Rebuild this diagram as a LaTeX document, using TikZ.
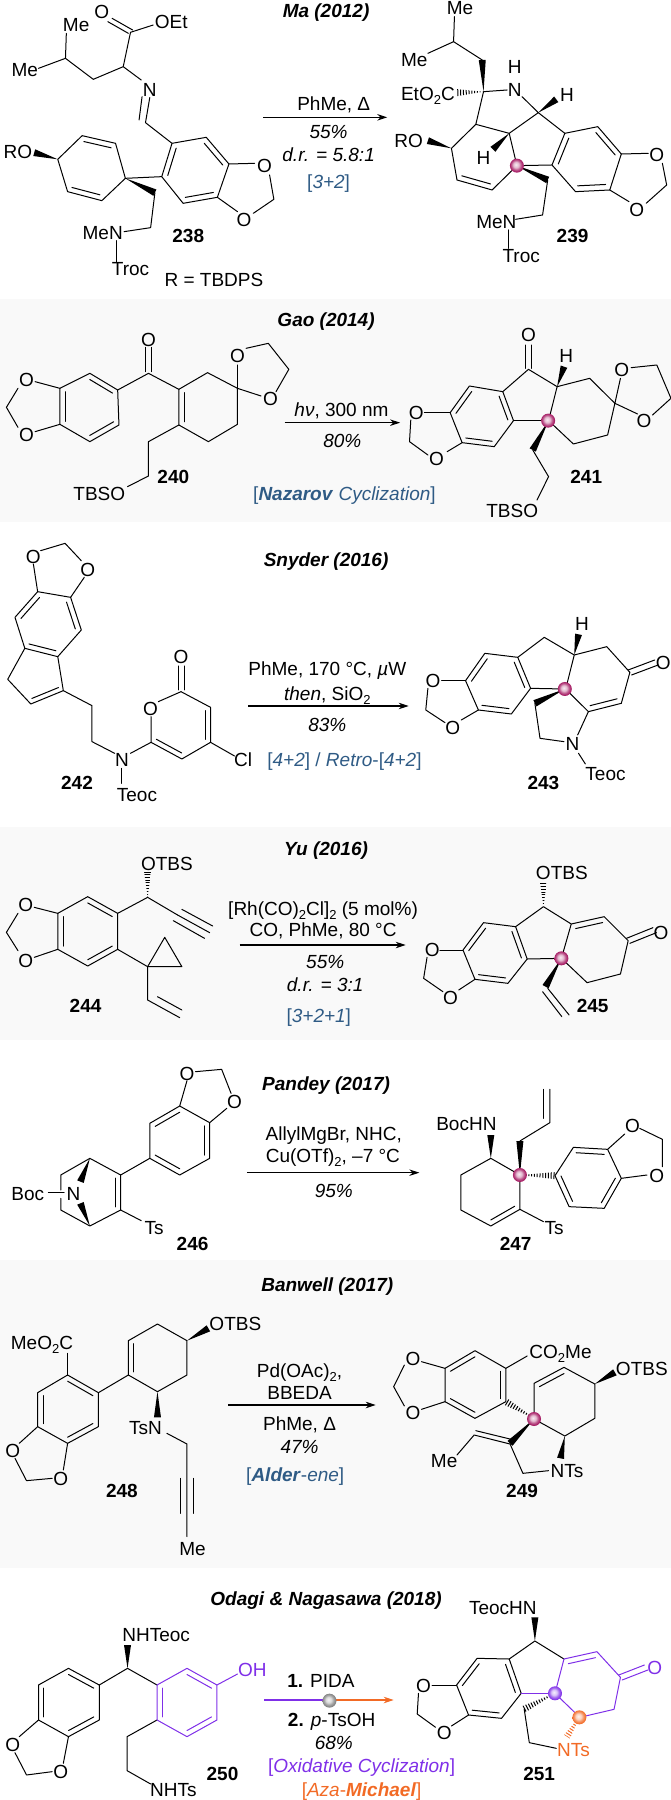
\documentclass[tikz,border=0pt]{standalone}
\usepackage{fontspec}
\setmainfont{Liberation Sans}
\usetikzlibrary{calc,arrows.meta}
\definecolor{panelgrey}{HTML}{F9F9F9}
\definecolor{tagblue}{HTML}{2F5B85}
\definecolor{ballpink}{HTML}{A3155F}
\definecolor{oxpurple}{HTML}{7F2FE8}
\definecolor{azaorange}{HTML}{F26A25}
\colorlet{softc}{ballpink}
\pgfdeclareradialshading[softc]{softball}{\pgfqpoint{-4bp}{4bp}}{color(0bp)=(softc!8!white);
  color(10bp)=(softc!30!white); color(18bp)=(softc!75!white); color(25bp)=(softc); color(50bp)=(softc)}
\tikzset{
  zoomed/.style={x=.4279pt,y=-.3333pt,yshift=-#1pt},
  bond/.style={line width=1pt,line join=round,line cap=round},
  rxn/.style={line width=1.1pt,-{Stealth[length=10pt,width=6.5pt]}},
  atom/.style={inner sep=0pt,text height=13.5pt,text depth=0pt,font=\fontsize{19}{22}\selectfont},
  cond/.style={atom},
  yield/.style={atom,font=\fontsize{19}{22}\selectfont\itshape},
  tag/.style={atom,text=tagblue},
  cmpd/.style={atom,font=\fontsize{19}{22}\selectfont\bfseries},
  author/.style={atom,font=\fontsize{19}{22}\selectfont\bfseries\itshape},
  ball/.code={\colorlet{softc}{#1}\tikzset{shading=softball}},
  ball/.default=ballpink,
}
\newcommand{\low}[1]{\raisebox{-.22em}{\fontsize{13}{13}\selectfont #1}}
\newcommand{\dbl}[3]{\draw [bond] ($(#1)!.18!(#3)$) -- ($(#2)!.18!(#3)$);}
\newcommand{\wdg}[2]{\fill (#1) -- ($(#2)!3.5pt!90:(#1)$) -- ($(#2)!3.5pt!-90:(#1)$) -- cycle;}
\newcommand{\hsh}[2]{\begin{scope}
  \clip (#1) -- ($(#2)!3.5pt!90:(#1)$) -- ($(#2)!3.5pt!-90:(#1)$) -- cycle;
  \draw [line width=7pt,dash pattern=on 1pt off 1.8pt] (#1) -- (#2);
\end{scope}}
\begin{document}
\begin{tikzpicture}[x=1pt,y=-1pt]
\useasboundingbox (0,0) rectangle (671,1800);
\fill [panelgrey] (0,299) rectangle (671,522);
\fill [panelgrey] (0,827) rectangle (671,1040);
\fill [panelgrey] (0,1260) rectangle (671,1568);

% Ma
\begin{scope}[zoomed=0]
\node [author] (ma) at (762,32) {Ma (2012)};
\node [atom] (o238a) at (238,35) {O};
\node [atom] (oet238) at (400,65) {OEt};
\node [atom] (me238a) at (178,75) {Me};
\node [atom] (me238b) at (58,210) {Me};
\node [atom] (n238) at (350,268) {N};
\node [atom] (ro238) at (42,455) {RO};
\node [atom] (o238b) at (618,497) {O};
\node [atom] (o238c) at (570,660) {O};
\node [atom] (men238) at (240,698) {MeN};
\node [atom] (troc238) at (305,805) {Troc};
\node [cmpd] (c238) at (440,708) {238};
\node [atom] (rdef) at (500,838) {R = TBDPS};
\draw [bond] (300,100) -- (252,65) (310,90) -- (262,55);
\draw [bond] (358,75) -- (305,97) -- (288,200) -- (218,238) -- (153,175) -- (155,100);
\draw [bond] (153,175) -- (90,205);
\draw [bond] (288,200) -- (330,240);
\draw [bond] (350,293) -- (340,368) -- (402,430);
\draw [bond] (332,290) -- (325,360);
\draw [bond] (402,430) -- (482,412) -- (535,492) -- (508,592) -- (428,610) -- (378,530) -- cycle;
\dbl{402,430}{378,530}{456,511}
\dbl{482,412}{535,492}{456,511}
\dbl{508,592}{428,610}{456,511}
\draw [bond] (535,492) -- (595,490);
\draw [bond] (630,525) -- (640,598) -- (592,640);
\draw [bond] (555,635) -- (508,592);
\draw [bond] (378,530) -- (293,535);
\draw [bond] (293,535) -- (270,430) -- (192,407) -- (135,478) -- (158,575) -- (238,602) -- cycle;
\dbl{270,430}{192,407}{214,505}
\dbl{158,575}{238,602}{214,505}
\wdg{135,478}{80,458}
\wdg{293,535}{362,578}
\draw [bond] (362,578) -- (352,683) -- (290,695);
\draw [bond] (272,722) -- (272,785);

\node [atom] (me239a) at (1075,22) {Me};
\node [atom] (me239b) at (968,178) {Me};
\node [atom] (h239a) at (1203,200) {H};
\node [atom] (n239) at (1203,268) {N};
\node [atom] (et239) at (1000,282) {EtO\low{2}C};
\node [atom] (h239b) at (1325,285) {H};
\node [atom] (ro239) at (955,422) {RO};
\node [atom] (h239c) at (1130,472) {H};
\node [atom] (o239a) at (1535,465) {O};
\node [atom] (o239b) at (1488,630) {O};
\node [atom] (men239) at (1160,665) {MeN};
\node [cmpd] (c239) at (1338,708) {239};
\node [atom] (troc239) at (1218,768) {Troc};
\draw [bond] (1062,50) -- (1060,125) -- (1127,180);
\draw [bond] (1060,125) -- (1000,160);
\wdg{1130,275}{1127,180}
\hsh{1130,275}{1068,278}
\draw [bond] (1185,270) -- (1130,275) -- (1112,373) -- (1190,400) -- (1258,338) -- (1220,290);
\wdg{1258,338}{1300,298}
\draw [bond] (1112,373) -- (1055,445) -- (1068,540) -- (1150,570) -- (1208,497) -- (1190,400);
\dbl{1068,540}{1150,570}{1130,470}
\wdg{1055,445}{1000,422}
\wdg{1190,400}{1152,448}
\draw [bond] (1320,400) -- (1397,380) -- (1452,462) -- (1425,570) -- (1345,575) -- (1290,495) -- cycle;
\dbl{1320,400}{1290,495}{1372,478}
\dbl{1397,380}{1452,462}{1372,478}
\dbl{1425,570}{1345,575}{1372,478}
\draw [bond] (1258,338) -- (1320,400);
\draw [bond] (1208,497) -- (1290,495);
\wdg{1208,497}{1280,540}
\draw [bond] (1280,540) -- (1268,645) -- (1205,658);
\draw [bond] (1452,462) -- (1515,460);
\draw [bond] (1548,490) -- (1558,555) -- (1510,610);
\draw [bond] (1470,605) -- (1425,570);
\draw [bond] (1188,690) -- (1188,745);
\shade [ball] (1208,497) circle (7pt);
\coordinate (ma1) at (615,352);
\coordinate (ma2) at (905,352);
\draw [rxn] (ma1) -- (ma2);
\node [cond] (cma) at (780,310) {PhMe, Δ};
\node [yield] (yma) at (768,395) {55\%};
\node [yield] (drma) at (768,465) {d.r. = 5.8:1};
\node [tag] (tma) at (768,545) {[\textit{3+2}]};
\end{scope}

% Gao
\begin{scope}[zoomed=270]
\node [author] (gao) at (762,148) {Gao (2014)};
\node [atom] (o240a) at (347,208) {O};
\node [atom] (o240b) at (555,258) {O};
\node [atom] (o240c) at (632,387) {O};
\node [atom] (o240d) at (62,330) {O};
\node [atom] (o240e) at (62,495) {O};
\node [atom] (tbs240) at (232,670) {TBSO};
\node [cmpd] (c240) at (405,620) {240};
\draw [bond] (340,232) -- (340,305) (355,232) -- (355,305);
\draw [bond] (275,360) -- (347,310) -- (418,358);
\draw [bond] (275,360) -- (210,310) -- (140,355) -- (140,463) -- (210,515) -- (278,465) -- cycle;
\dbl{210,310}{275,360}{208,412}
\dbl{140,355}{140,463}{208,412}
\dbl{210,515}{278,465}{208,412}
\draw [bond] (140,355) -- (82,335);
\draw [bond] (42,355) -- (15,412) -- (42,472);
\draw [bond] (82,485) -- (140,463);
\draw [bond] (418,358) -- (485,308) -- (555,355) -- (555,463) -- (487,515) -- (418,465) -- cycle;
\dbl{418,358}{418,465}{486,411}
\draw [bond] (555,355) -- (555,285);
\draw [bond] (555,355) -- (610,378);
\draw [bond] (575,235) -- (627,220) -- (675,298) -- (645,365);
\draw [bond] (418,465) -- (347,515) -- (347,618) -- (298,650);
\coordinate (gao1) at (665,458);
\coordinate (gao2) at (935,458);
\draw [rxn] (gao1) -- (gao2);
\node [cond] (cgao) at (798,420) {\textit{hν}, 300 nm};
\node [yield] (ygao) at (800,512) {80\%};
\node [tag] (tgao) at (805,670) {[\textbf{\textit{Nazarov}} \textit{Cyclization}]};

\node [atom] (o241a) at (1235,195) {O};
\node [atom] (h241) at (1323,258) {H};
\node [atom] (o241b) at (1453,298) {O};
\node [atom] (o241c) at (1505,452) {O};
\node [atom] (o241d) at (973,428) {O};
\node [atom] (o241e) at (1020,565) {O};
\node [atom] (tbs241) at (1197,722) {TBSO};
\node [cmpd] (c241) at (1370,620) {241};
\draw [bond] (1228,225) -- (1228,295) (1243,225) -- (1243,295);
\draw [bond] (1175,365) -- (1235,298) -- (1302,350) -- (1378,325) -- (1437,400) -- (1420,495) -- (1340,522) -- (1282,452) -- (1302,350);
\wdg{1302,350}{1318,290}
\draw [bond] (1437,400) -- (1450,325);
\draw [bond] (1437,400) -- (1490,432);
\draw [bond] (1475,293) -- (1535,285) -- (1568,385) -- (1525,435);
\draw [bond] (1175,365) -- (1097,348) -- (1052,428) -- (1080,518) -- (1155,530) -- (1200,452) -- cycle;
\dbl{1175,365}{1200,452}{1127,440}
\dbl{1097,348}{1052,428}{1127,440}
\dbl{1080,518}{1155,530}{1127,440}
\draw [bond] (1200,452) -- (1282,452);
\draw [bond] (1052,428) -- (992,428);
\draw [bond] (960,450) -- (957,515) -- (1000,555);
\draw [bond] (1045,545) -- (1080,518);
\wdg{1282,452}{1245,540}
\draw [bond] (1245,540) -- (1282,620) -- (1255,690);
\shade [ball] (1281,452) circle (7pt);
\end{scope}

% Snyder
\begin{scope}[zoomed=540]
\node [author] (snyder) at (762,60) {Snyder (2016)};
\node [atom] (o242a) at (78,50) {O};
\node [atom] (o242b) at (205,88) {O};
\node [atom] (o242c) at (423,350) {O};
\node [atom] (o242d) at (352,505) {O};
\node [atom] (n242) at (285,660) {N};
\node [atom] (cl242) at (568,660) {Cl};
\node [atom] (teoc242) at (320,765) {Teoc};
\node [cmpd] (c242) at (180,728) {242};
\draw [bond] (95,32) -- (152,10) -- (190,62);
\draw [bond] (78,72) -- (88,155);
\draw [bond] (197,112) -- (165,172);
\draw [bond] (88,155) -- (165,172) -- (190,270) -- (135,350) -- (58,325) -- (35,232) -- cycle;
\dbl{88,155}{35,232}{112,252}
\dbl{165,172}{190,270}{112,252}
\dbl{135,350}{58,325}{112,252}
\draw [bond] (58,325) -- (18,418) -- (72,492) -- (148,452) -- (135,350);
\dbl{72,492}{148,452}{85,400}
\draw [bond] (148,452) -- (215,497) -- (215,605) -- (268,640);
\draw [bond] (305,640) -- (353,607) -- (353,530);
\draw [bond] (370,485) -- (423,455) -- (492,502) -- (492,607) -- (425,657) -- (353,607);
\dbl{492,502}{492,607}{422,556}
\dbl{425,657}{353,607}{422,556}
\draw [bond] (416,378) -- (416,450) (431,378) -- (431,450);
\draw [bond] (492,607) -- (548,648);
\draw [bond] (285,685) -- (285,730);
\coordinate (sny1) at (580,498);
\coordinate (sny2) at (955,498);
\draw [rxn] (sny1) -- (sny2);
\node [cond] (csnya) at (765,385) {PhMe, 170 °C, \textit{µ}W};
\node [cond] (csnyb) at (765,462) {\textit{then}, SiO\low{2}};
\node [yield] (ysny) at (765,555) {83\%};
\node [tag] (tsny) at (805,660) {[\textit{4+2}] / \textit{Retro}-[\textit{4+2}]};

\node [atom] (h243) at (1360,250) {H};
\node [atom] (o243a) at (1550,367) {O};
\node [atom] (o243b) at (1012,422) {O};
\node [atom] (o243c) at (1058,563) {O};
\node [atom] (n243) at (1338,612) {N};
\node [atom] (teoc243) at (1415,702) {Teoc};
\node [cmpd] (c243) at (1270,728) {243};
\draw [bond] (1210,352) -- (1272,292) -- (1342,345) -- (1418,320) -- (1472,397) -- (1452,490) -- (1375,515) -- (1322,447) -- (1342,345);
\wdg{1342,345}{1352,283}
\draw [bond] (1468,390) -- (1530,360) (1476,405) -- (1538,375);
\dbl{1452,490}{1375,515}{1397,415}
\draw [bond] (1375,515) -- (1350,585);
\wdg{1320,447}{1250,490}
\draw [bond] (1250,490) -- (1262,595) -- (1318,605);
\draw [bond] (1352,640) -- (1368,672);
\draw [bond] (1210,352) -- (1133,340) -- (1088,422) -- (1118,510) -- (1195,522) -- (1240,445) -- cycle;
\dbl{1210,352}{1240,445}{1164,432}
\dbl{1133,340}{1088,422}{1164,432}
\dbl{1118,510}{1195,522}{1164,432}
\draw [bond] (1240,445) -- (1320,447);
\draw [bond] (1088,422) -- (1032,422);
\draw [bond] (1000,445) -- (995,510) -- (1040,548);
\draw [bond] (1078,540) -- (1118,510);
\shade [ball] (1320,447) circle (7pt);
\end{scope}

% Yu
\begin{scope}[zoomed=880]
\node [author] (yu) at (762,-95) {Yu (2016)};
\node [atom] (otbs244) at (390,-48) {OTBS};
\node [atom] (o244a) at (60,75) {O};
\node [atom] (o244b) at (60,242) {O};
\node [cmpd] (c244) at (200,378) {244};
\draw [bond] (275,100) -- (205,50) -- (135,100) -- (135,208) -- (205,258) -- (275,208) -- cycle;
\dbl{275,100}{205,50}{205,154}
\dbl{135,100}{135,208}{205,154}
\dbl{205,258}{275,208}{205,154}
\draw [bond] (135,100) -- (80,82);
\draw [bond] (42,100) -- (15,157) -- (42,212);
\draw [bond] (80,232) -- (135,208);
\draw [bond] (275,100) -- (345,52) -- (415,105);
\hsh{345,52}{345,-25}
\draw [bond] (415,105) -- (490,158) (405,122) -- (478,175) (425,88) -- (497,138);
\draw [bond] (275,208) -- (345,260);
\draw [bond] (345,260) -- (385,172) -- (425,260) -- cycle;
\draw [bond] (345,260) -- (345,360) -- (420,413);
\draw [bond] (368,350) -- (425,390);
\coordinate (yu1) at (560,195);
\coordinate (yu2) at (948,195);
\draw [rxn] (yu1) -- (yu2);
\node [cond] (cyua) at (755,85) {[Rh(CO)\low{2}Cl]\low{2} (5 mol\%)};
\node [cond] (cyub) at (755,150) {CO, PhMe, 80 °C};
\node [yield] (yyu) at (760,245) {55\%};
\node [yield] (dryu) at (760,315) {d.r. = 3:1};
\node [tag] (tyu) at (745,408) {[\textit{3+2+1}]};

\node [atom] (otbs245) at (1313,-23) {OTBS};
\node [atom] (o245a) at (1010,210) {O};
\node [atom] (o245b) at (1053,352) {O};
\node [atom] (o245c) at (1545,157) {O};
\node [cmpd] (c245) at (1385,378) {245};
\hsh{1270,80}{1270,5}
\draw [bond] (1205,140) -- (1270,80) -- (1335,132) -- (1412,110) -- (1468,182) -- (1450,282) -- (1372,308) -- (1312,235) -- (1335,132);
\dbl{1335,132}{1412,110}{1392,208}
\draw [bond] (1464,175) -- (1526,143) (1472,190) -- (1534,158);
\draw [bond] (1205,140) -- (1130,128) -- (1082,210) -- (1110,298) -- (1187,310) -- (1232,237) -- cycle;
\dbl{1205,140}{1232,237}{1157,220}
\dbl{1130,128}{1082,210}{1157,220}
\dbl{1110,298}{1187,310}{1157,220}
\draw [bond] (1232,237) -- (1312,235);
\wdg{1312,235}{1275,320}
\draw [bond] (1280,325) -- (1330,405) (1268,335) -- (1313,410);
\draw [bond] (1082,210) -- (1028,210);
\draw [bond] (998,232) -- (990,295) -- (1035,335);
\draw [bond] (1072,330) -- (1110,298);
\shade [ball] (1312,235) circle (7pt);
\end{scope}

% Pandey
\begin{scope}[zoomed=1060]
\node [author] (pandey) at (762,70) {Pandey (2017)};
\node [atom] (o246a) at (437,40) {O};
\node [atom] (o246b) at (548,125) {O};
\node [atom] (boc246) at (65,400) {Boc};
\node [atom] (n246) at (172,402) {N};
\node [atom] (ts246) at (360,502) {Ts};
\node [cmpd] (c246) at (450,550) {246};
\draw [bond] (457,35) -- (518,28) -- (540,100);
\draw [bond] (530,145) -- (490,188);
\draw [bond] (437,62) -- (420,138);
\draw [bond] (420,138) -- (490,188) -- (490,295) -- (420,345) -- (350,295) -- (350,190) -- cycle;
\dbl{420,138}{350,190}{420,241}
\dbl{490,188}{490,295}{420,241}
\dbl{420,345}{350,295}{420,241}
\draw [bond] (350,295) -- (282,345) -- (210,295) -- (142,345) -- (142,390);
\draw [bond] (142,415) -- (142,450) -- (210,498) -- (282,450) -- (282,345);
\dbl{282,345}{282,450}{212,398}
\wdg{210,295}{188,365}
\wdg{210,498}{188,430}
\draw [bond] (113,398) -- (150,398);
\draw [bond] (282,450) -- (330,482);
\coordinate (pan1) at (577,338);
\coordinate (pan2) at (980,338);
\draw [rxn] (pan1) -- (pan2);
\node [cond] (cpana) at (780,220) {AllylMgBr, NHC,};
\node [cond] (cpanb) at (778,288) {Cu(OTf)\low{2}, –7 °C};
\node [yield] (ypan) at (780,393) {95\%};

\node [atom] (boc247) at (1090,192) {BocHN};
\node [atom] (ts247) at (1295,502) {Ts};
\node [atom] (o247a) at (1478,198) {O};
\node [atom] (o247b) at (1535,347) {O};
\node [cmpd] (c247) at (1205,550) {247};
\draw [bond] (1147,295) -- (1215,345) -- (1215,448) -- (1147,498) -- (1077,450) -- (1077,345) -- cycle;
\dbl{1215,448}{1147,498}{1147,397}
\wdg{1147,295}{1147,225}
\wdg{1215,345}{1215,243}
\draw [bond] (1215,243) -- (1285,188) -- (1285,88);
\draw [bond] (1270,175) -- (1270,88);
\hsh{1215,345}{1297,347}
\draw [bond] (1297,347) -- (1340,262) -- (1420,268) -- (1452,355) -- (1412,445) -- (1330,440) -- cycle;
\dbl{1340,262}{1420,268}{1375,352}
\dbl{1452,355}{1412,445}{1375,352}
\dbl{1330,440}{1297,347}{1375,352}
\draw [bond] (1420,268) -- (1460,222);
\draw [bond] (1495,205) -- (1548,238) -- (1548,320);
\draw [bond] (1512,345) -- (1452,355);
\draw [bond] (1215,448) -- (1270,485);
\shade [ball] (1215,345) circle (7pt);
\end{scope}

% Banwell
\begin{scope}[zoomed=1330]
\node [author] (banwell) at (765,-135) {Banwell (2017)};
\node [atom] (otbs248) at (550,-18) {OTBS};
\node [atom] (me248) at (98,38) {MeO\low{2}C};
\node [atom] (o248a) at (30,362) {O};
\node [atom] (o248b) at (142,445) {O};
\node [atom] (ts248) at (340,293) {TsN};
\node [atom] (mey248) at (450,655) {Me};
\node [cmpd] (c248) at (285,482) {248};
\draw [bond] (158,135) -- (230,188) -- (230,290) -- (158,340) -- (88,290) -- (88,188) -- cycle;
\dbl{88,188}{88,290}{158,238}
\dbl{158,135}{230,188}{158,238}
\dbl{230,290}{158,340}{158,238}
\draw [bond] (158,135) -- (158,70);
\draw [bond] (230,188) -- (300,135);
\draw [bond] (88,290) -- (45,340);
\draw [bond] (35,385) -- (62,452) -- (122,445);
\draw [bond] (148,420) -- (158,340);
\draw [bond] (300,135) -- (300,32) -- (368,-18) -- (437,32) -- (437,135) -- (368,185) -- cycle;
\dbl{300,135}{300,32}{368,83}
\wdg{437,32}{487,-5}
\wdg{368,185}{368,262}
\draw [bond] (390,310) -- (437,342) -- (437,620);
\draw [bond] (422,445) -- (422,550) (453,445) -- (453,550);
\coordinate (ban1) at (533,225);
\coordinate (ban2) at (878,225);
\draw [rxn] (ban1) -- (ban2);
\node [cond] (cbana) at (700,122) {Pd(OAc)\low{2},};
\node [cond] (cbanb) at (700,188) {BBEDA};
\node [cond] (cbanc) at (700,280) {PhMe, Δ};
\node [yield] (yban) at (700,350) {47\%};
\node [tag] (tban) at (690,435) {[\textbf{\textit{Alder}}-\textit{ene}]};

\node [atom] (o249a) at (965,85) {O};
\node [atom] (o249b) at (965,248) {O};
\node [atom] (co249) at (1310,65) {CO\low{2}Me};
\node [atom] (otbs249) at (1500,115) {OTBS};
\node [atom] (me249) at (1038,392) {Me};
\node [atom] (nts249) at (1325,422) {NTs};
\node [cmpd] (c249) at (1220,482) {249};
\draw [bond] (1040,115) -- (1110,62) -- (1182,115) -- (1182,215) -- (1110,265) -- (1040,215) -- cycle;
\dbl{1040,115}{1110,62}{1110,164}
\dbl{1182,115}{1182,215}{1110,164}
\dbl{1040,215}{1110,265}{1110,164}
\draw [bond] (1040,115) -- (985,95);
\draw [bond] (945,105) -- (920,170) -- (945,228);
\draw [bond] (985,238) -- (1040,215);
\draw [bond] (1182,115) -- (1232,78);
\hsh{1248,265}{1182,215}
\draw [bond] (1248,267) -- (1248,160) -- (1318,112) -- (1390,162) -- (1390,265) -- (1320,318) -- cycle;
\dbl{1248,160}{1318,112}{1319,215}
\wdg{1390,162}{1437,127}
\wdg{1320,318}{1310,385}
\wdg{1248,267}{1192,340}
\draw [bond] (1192,342) -- (1108,315) -- (1068,375);
\draw [bond] (1195,328) -- (1112,302);
\draw [bond] (1192,342) -- (1222,430) -- (1282,422);
\shade [ball] (1248,267) circle (7pt);
\end{scope}

% Odagi
\begin{scope}[zoomed=1560]
\node [author] (odagi) at (762,115) {Odagi \& Nagasawa (2018)};
\node [atom] (nh250) at (365,225) {NHTeoc};
\node [atom,text=oxpurple] (oh250) at (590,328) {OH};
\node [atom] (o250a) at (30,555) {O};
\node [atom] (o250b) at (142,635) {O};
\node [atom] (nts250) at (405,690) {NHTs};
\node [cmpd] (c250) at (520,642) {250};
\wdg{298,325}{298,255}
\draw [bond] (232,375) -- (298,325) -- (367,375);
\draw [bond] (232,375) -- (160,325) -- (90,375) -- (90,480) -- (160,530) -- (232,480) -- cycle;
\dbl{160,325}{232,375}{161,428}
\dbl{90,375}{90,480}{161,428}
\dbl{232,480}{160,530}{161,428}
\draw [bond] (90,480) -- (45,530);
\draw [bond] (35,578) -- (62,645) -- (122,635);
\draw [bond] (148,610) -- (160,530);
\draw [bond] (367,480) -- (297,530) -- (297,632) -- (352,672);
\begin{scope}[color=oxpurple]
\draw [bond] (367,375) -- (437,325) -- (507,375) -- (507,480) -- (437,530) -- (367,480) -- cycle;
\dbl{437,325}{507,375}{437,428}
\dbl{507,480}{437,530}{437,428}
\dbl{367,375}{367,480}{437,428}
\draw [bond] (507,375) -- (555,342);
\end{scope}
\coordinate (oda1) at (617,420);
\coordinate (oda2) at (770,420);
\coordinate (oda3) at (920,420);
\draw [line width=1.1pt,oxpurple] (oda1) -- (oda2);
\draw [rxn,azaorange] (oda2) -- (oda3);
\shade [ball=gray] (770,422) circle (7pt);
\node [cond] (coda) at (750,362) {\textbf{1.} PIDA};
\node [cond] (codb) at (775,480) {\textbf{2.} \textit{p}-TsOH};
\node [yield] (yoda) at (780,548) {68\%};
\node [atom,text=oxpurple] (toda) at (845,618) {[\textit{Oxidative Cyclization}]};
\node [atom,text=azaorange] (tmic) at (845,690) {[\textit{Aza}-\textbf{\textit{Michael}}]};

\node [atom] (nh251) at (1175,142) {TeocHN};
\node [atom] (o251a) at (990,378) {O};
\node [atom] (o251b) at (1038,518) {O};
\node [atom,text=oxpurple] (o251c) at (1530,322) {O};
\node [atom,text=azaorange] (nts251) at (1340,568) {NTs};
\node [cmpd] (c251) at (1260,642) {251};
\wdg{1250,243}{1250,172}
\draw [bond] (1190,297) -- (1250,243) -- (1318,297);
\draw [bond] (1190,297) -- (1115,295) -- (1067,375) -- (1095,465) -- (1172,475) -- (1218,400) -- cycle;
\dbl{1190,297}{1218,400}{1142,385}
\dbl{1115,295}{1067,375}{1142,385}
\dbl{1095,465}{1172,475}{1142,385}
\draw [bond] (1067,375) -- (1010,375);
\draw [bond] (978,400) -- (975,462) -- (1018,502);
\draw [bond] (1055,498) -- (1095,465);
\hsh{1297,400}{1225,447}
\draw [bond] (1225,447) -- (1237,548) -- (1300,565);
\begin{scope}[color=oxpurple]
\draw [bond] (1218,400) -- (1297,400);
\draw [bond] (1297,400) -- (1318,297) -- (1395,275) -- (1450,352) -- (1435,448) -- (1355,472) -- cycle;
\dbl{1318,297}{1395,275}{1375,375}
\draw [bond] (1446,345) -- (1506,315) (1454,360) -- (1514,330);
\end{scope}
\begin{scope}[color=azaorange]
\hsh{1354,472}{1325,530}
\end{scope}
\shade [ball=oxpurple] (1297,400) circle (7pt);
\shade [ball=azaorange] (1354,472) circle (7pt);
\end{scope}
\end{tikzpicture}
\end{document}
